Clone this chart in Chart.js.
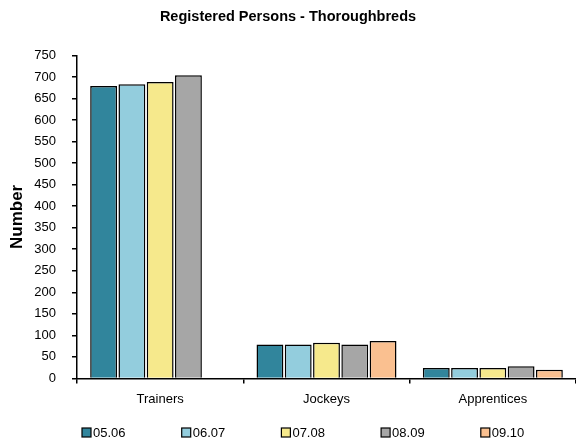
<!DOCTYPE html>
<html>
<head>
<meta charset="utf-8">
<script src="https://cdn.jsdelivr.net/npm/chart.js@4"></script>
<style>
  html, body { margin: 0; padding: 0; background: #fff; }
  #wrap { width: 576px; height: 447px; }
</style>
</head>
<body>
<div id="wrap"><canvas id="chart"></canvas></div>
<script>
// categories and series
const categories = ['Trainers', 'Jockeys', 'Apprentices'];
const seasons = ['05.06', '06.07', '07.08', '08.09', '09.10'];
const s0506 = [679, 79, 24];
const s0607 = [683, 79, 24];
const s0708 = [688, 83, 24];
const s0809 = [704, 79, 28];
const s0910 = [null, 87, 20];
const seriesColors = ['#31859C', '#93CDDD', '#F6E98C', '#A6A6A6', '#FAC090'];

const FONT = "'Liberation Sans', Arial, sans-serif";

// legend drawn along the bottom, evenly spaced like the original
const bottomLegend = {
    id: 'bottomLegend',
    afterDraw(chart) {
        const ctx = chart.ctx;
        ctx.save();
        ctx.font = '13px ' + FONT;
        ctx.textBaseline = 'middle';
        chart.data.datasets.forEach((ds, i) => {
            const x = 82 + i * 99.7;
            const y = 433;
            ctx.fillStyle = ds.backgroundColor;
            ctx.fillRect(x, y - 5, 9, 9);
            ctx.strokeStyle = '#000';
            ctx.lineWidth = 1.2;
            ctx.strokeRect(x, y - 5, 9, 9);
            ctx.fillStyle = '#000';
            ctx.fillText(ds.label, x + 11, y);
        });
        ctx.restore();
    }
};

const values = [s0506, s0607, s0708, s0809, s0910];
const datasets = seasons.map((s, i) => ({
    label: s,
    data: values[i],
    backgroundColor: seriesColors[i],
    borderColor: '#000',
    borderWidth: 1.5,
    categoryPercentage: 0.85,
    barPercentage: 0.95
}));

new Chart(document.getElementById('chart'), {
    type: 'bar',
    data: { labels: categories, datasets },
    options: {
        responsive: true,
        maintainAspectRatio: false,
        animation: false,
        layout: { padding: { left: 0, right: 0, top: 0, bottom: 32 } },
        plugins: {
            legend: { display: false },
            tooltip: { enabled: false },
            title: {
                display: true,
                text: 'Registered Persons - Thoroughbreds',
                color: '#000',
                font: { family: FONT, size: 14.5, weight: 'bold' },
                padding: { top: 8, bottom: 30 }
            }
        },
        scales: {
            x: {
                grid: { display: true, offset: true, drawOnChartArea: false, drawTicks: true, tickLength: 5, color: '#000', lineWidth: 1.5 },
                border: { display: true, color: '#000', width: 1.5 },
                ticks: { color: '#000', font: { family: FONT, size: 13 }, padding: 8 }
            },
            y: {
                min: 0,
                max: 750,
                afterFit(scale) { scale.width = 77; },
                grid: { display: true, drawOnChartArea: false, drawTicks: true, tickLength: 5, color: '#000', lineWidth: 1.5 },
                border: { display: true, color: '#000', width: 1.5 },
                ticks: { stepSize: 50, color: '#000', font: { family: FONT, size: 13 }, padding: 16 },
                title: {
                    display: true,
                    text: 'Number',
                    color: '#000',
                    font: { family: FONT, size: 17, weight: 'bold' },
                    padding: { top: 7, bottom: 0 }
                }
            }
        }
    },
    plugins: [bottomLegend]
});
</script>
</body>
</html>
